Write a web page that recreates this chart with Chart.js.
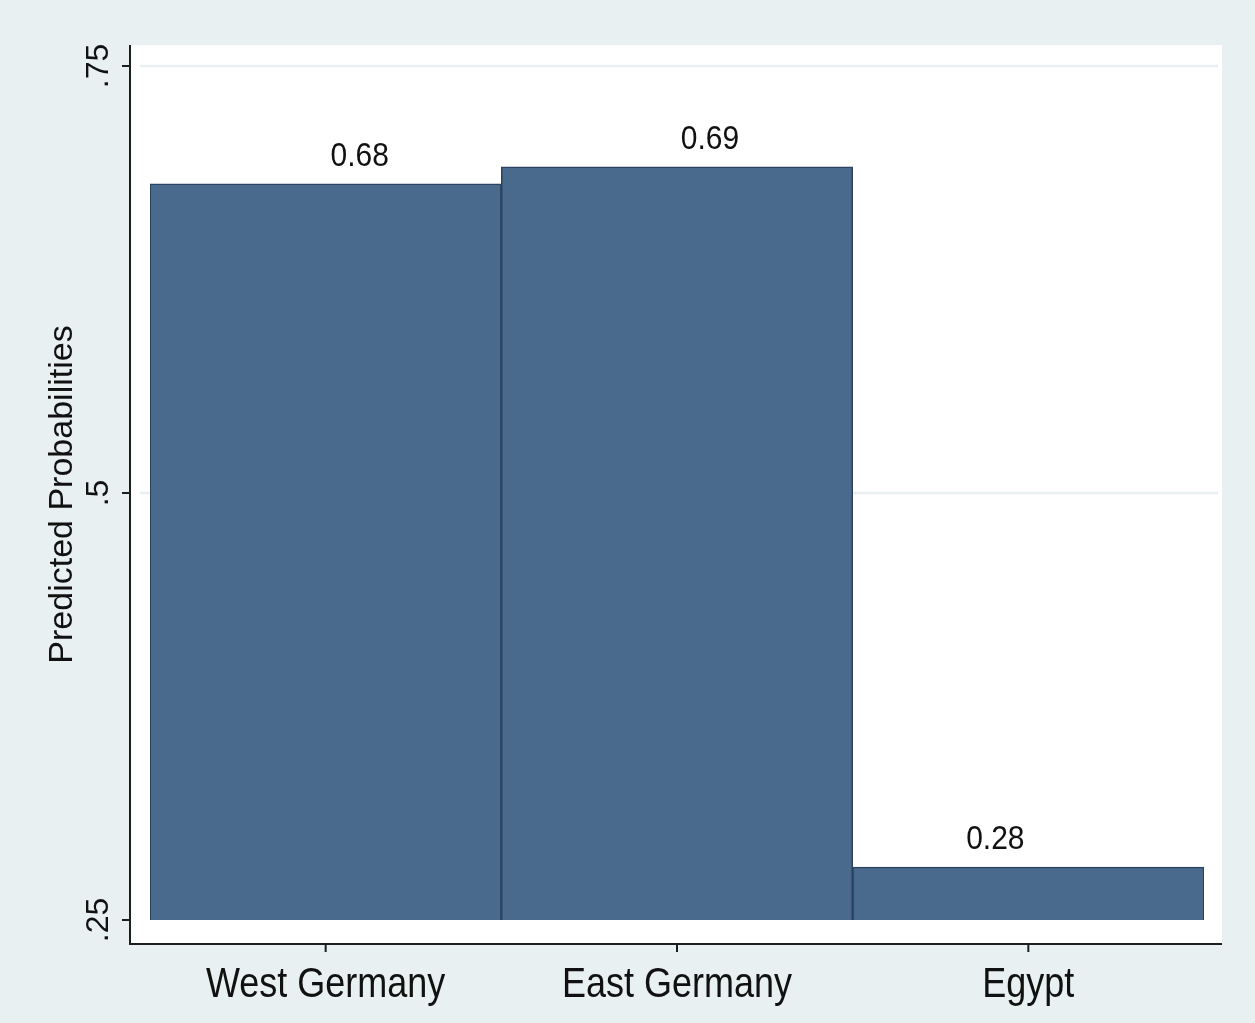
<!DOCTYPE html>
<html>
<head>
<meta charset="utf-8">
<script src="https://cdn.jsdelivr.net/npm/chart.js@4.4.1/dist/chart.umd.min.js"></script>
<style>
  html, body { margin: 0; padding: 0; background: #e8f0f1; }
  #wrap { width: 1255px; height: 1023px; }
</style>
</head>
<body>
<div id="wrap"><canvas id="c" width="1255" height="1023"></canvas></div>
<script>
// ---- data ----
const categories = ['West Germany', 'East Germany', 'Egypt'];
const probabilities = [0.681, 0.691, 0.281];
const yTickValues = [0.25, 0.5, 0.75];
const yTickLabels = ['.25', '.5', '.75'];
const yAxisTitle = 'Predicted Probabilities';

const FONT = '"Liberation Sans", Arial, Helvetica, sans-serif';
const BG = '#e8f0f1';
// horizontal nudges of the bar value labels (style only)
const LABEL_NUDGE = [34, 33, -33];

function stretchedText(ctx, text, px, py, sy) {
  ctx.save();
  ctx.translate(px, py);
  ctx.scale(1, sy);
  ctx.fillText(text, 0, 0);
  ctx.restore();
}

const stataPlugin = {
  id: 'stataLook',
  beforeDraw(chart) {
    const { ctx, chartArea: a, scales: { y } } = chart;
    ctx.save();
    ctx.fillStyle = BG;
    ctx.fillRect(0, 0, chart.width, chart.height);
    const L = a.left - 20, R = a.right + 18, T = a.top - 21, B = a.bottom + 24;
    ctx.fillStyle = '#ffffff';
    ctx.fillRect(L, T, R - L, B - T);
    ctx.strokeStyle = '#e9eff0';
    ctx.lineWidth = 2.5;
    yTickValues.forEach(v => {
      if (v === y.min) return;
      const py = Math.round(y.getPixelForValue(v));
      ctx.beginPath();
      ctx.moveTo(L + 10, py);
      ctx.lineTo(R - 4, py);
      ctx.stroke();
    });
    ctx.restore();
  },
  afterDatasetsDraw(chart) {
    const { ctx, chartArea: a, scales: { x, y } } = chart;
    const L = a.left - 20, R = a.right + 18, T = a.top - 21, B = a.bottom + 24;
    ctx.save();
    ctx.strokeStyle = '#1e1e1e';
    ctx.lineWidth = 2;
    ctx.beginPath();
    ctx.moveTo(L, T);
    ctx.lineTo(L, B);
    ctx.lineTo(R, B);
    ctx.stroke();
    // y ticks and labels
    ctx.fillStyle = '#111';
    ctx.font = '32px ' + FONT;
    yTickValues.forEach((v, i) => {
      const py = y.getPixelForValue(v);
      ctx.beginPath();
      ctx.moveTo(L, py);
      ctx.lineTo(L - 8, py);
      ctx.stroke();
      ctx.save();
      ctx.translate(L - 22, py);
      ctx.rotate(-Math.PI / 2);
      ctx.textAlign = 'center';
      ctx.textBaseline = 'alphabetic';
      ctx.fillText(yTickLabels[i], 0, 0);
      ctx.restore();
    });
    // x ticks and labels
    ctx.font = '36px ' + FONT;
    ctx.textAlign = 'center';
    ctx.textBaseline = 'alphabetic';
    categories.forEach((c, i) => {
      const px = x.getPixelForValue(i);
      ctx.beginPath();
      ctx.moveTo(px, B);
      ctx.lineTo(px, B + 8);
      ctx.stroke();
      stretchedText(ctx, c, px, B + 53, 1.18);
    });
    // value labels
    ctx.font = '30px ' + FONT;
    const meta = chart.getDatasetMeta(0);
    meta.data.forEach((bar, i) => {
      stretchedText(ctx, probabilities[i].toFixed(2), bar.x + LABEL_NUDGE[i], bar.y - 18, 1.12);
    });
    // y axis title
    ctx.save();
    ctx.font = '34px ' + FONT;
    ctx.translate(72, (T + B) / 2);
    ctx.rotate(-Math.PI / 2);
    ctx.textAlign = 'center';
    ctx.fillText(yAxisTitle, 0, 0);
    ctx.restore();
    ctx.restore();
  }
};

new Chart(document.getElementById('c'), {
  type: 'bar',
  data: {
    labels: categories,
    datasets: [{
      data: probabilities,
      backgroundColor: '#4a6a8d',
      borderColor: '#2b4360',
      borderWidth: 1.5,
      barPercentage: 1.0,
      categoryPercentage: 1.0,
      base: 0.25
    }]
  },
  options: {
    responsive: false,
    animation: false,
    devicePixelRatio: 1,
    layout: { padding: { left: 150, right: 51, top: 66, bottom: 103 } },
    plugins: { legend: { display: false }, tooltip: { enabled: false } },
    scales: {
      x: { display: false, offset: true },
      y: { display: false, min: 0.25, max: 0.75 }
    }
  },
  plugins: [stataPlugin]
});
</script>
</body>
</html>
